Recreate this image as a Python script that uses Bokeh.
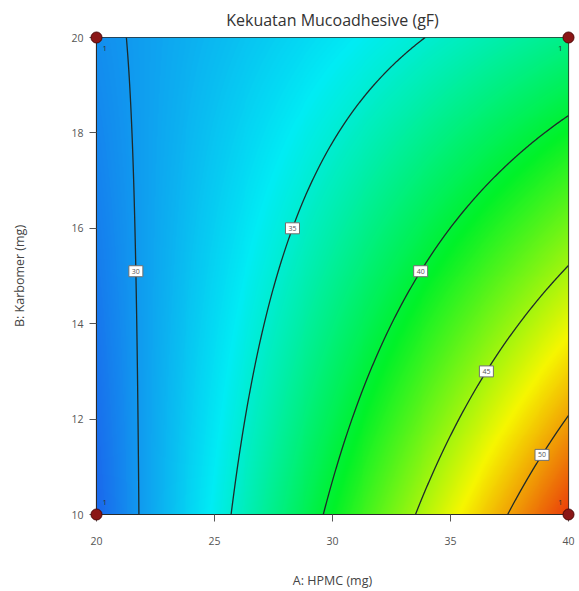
import numpy as np
from bokeh.plotting import figure
from bokeh.models import LinearColorMapper, Range1d, ColumnDataSource, FixedTicker
from bokeh.embed import file_html
from bokeh.resources import INLINE
from bokeh.core.properties import value

# 2^2 factorial design points and measured mucoadhesive strength (gF)
hpmc = [20, 40, 20, 40]
karbomer = [10, 10, 20, 20]
strength = [27.7, 53.3, 29.5, 37.4]
replicates = ["1", "1", "1", "1"]

contour_levels = [30, 35, 40, 45, 50]
x_ticks = [20, 25, 30, 35, 40]
y_ticks = [10, 12, 14, 16, 18, 20]

# where each contour label sits (Karbomer coordinate along its line)
label_b = [15.1, 16.0, 15.1, 13.0, 11.25]

FONT = "Open Sans"

# ---- fit the factorial model  y = c0 + c1*a + c2*b + c3*a*b  (coded units)
a_lo, a_hi = min(hpmc), max(hpmc)
b_lo, b_hi = min(karbomer), max(karbomer)
a_mid, a_half = (a_lo + a_hi) / 2, (a_hi - a_lo) / 2
b_mid, b_half = (b_lo + b_hi) / 2, (b_hi - b_lo) / 2

ca = (np.array(hpmc) - a_mid) / a_half
cb = (np.array(karbomer) - b_mid) / b_half
X = np.column_stack([np.ones(4), ca, cb, ca * cb])
c0, c1, c2, c3 = np.linalg.lstsq(X, np.array(strength), rcond=None)[0]


def predict(A, B):
    a = (A - a_mid) / a_half
    b = (B - b_mid) / b_half
    return c0 + c1 * a + c2 * b + c3 * a * b


ag = np.linspace(a_lo, a_hi, 480)
bg = np.linspace(b_lo, b_hi, 480)
AA, BB = np.meshgrid(ag, bg)
Z = predict(AA, BB)

# blue -> cyan -> green -> yellow -> red gradient
stops = [(0.00, (26, 104, 236)),
         (0.24, (0, 236, 244)),
         (0.50, (0, 242, 40)),
         (0.77, (246, 246, 0)),
         (1.00, (234, 62, 10))]
palette = []
for t in np.linspace(0, 1, 256):
    for (t0, col0), (t1, col1) in zip(stops[:-1], stops[1:]):
        if t0 <= t <= t1:
            f = (t - t0) / (t1 - t0)
            rgb = [int(round(u + (v - u) * f)) for u, v in zip(col0, col1)]
            palette.append("#%02x%02x%02x" % tuple(rgb))
            break

mapper = LinearColorMapper(palette=palette, low=float(Z.min()), high=float(Z.max()))

p = figure(width=579, height=591,
           x_range=Range1d(a_lo, a_hi), y_range=Range1d(b_lo, b_hi),
           output_backend="svg", toolbar_location=None,
           min_border_left=96, min_border_right=11,
           min_border_top=37, min_border_bottom=77)

p.title.text = "Kekuatan Mucoadhesive (gF)"
p.title.align = "center"
p.title.text_font = FONT
p.title.text_font_size = "16px"
p.title.text_font_style = "normal"
p.title.text_color = "#333333"
p.title.standoff = 13

p.background_fill_color = "white"
p.border_fill_color = "white"
p.outline_line_color = "#2a2a2a"
p.outline_line_width = 1.2
p.grid.visible = False

p.image(image=[Z], x=a_lo, y=b_lo, dw=a_hi - a_lo, dh=b_hi - b_lo,
        color_mapper=mapper)

p.contour(ag, bg, Z, levels=contour_levels, fill_color=None,
          line_color="#1e2a2a", line_width=1.3)

# contour labels
lb = np.array(label_b)
lv = np.array(contour_levels, dtype=float)
bc = (lb - b_mid) / b_half
acode = (lv - c0 - c2 * bc) / (c1 + c3 * bc)
la = acode * a_half + a_mid
lsrc = ColumnDataSource(dict(x=la, y=lb, t=[str(v) for v in contour_levels]))
p.rect("x", "y", width=14, height=11, width_units="screen", height_units="screen",
       source=lsrc, fill_color="white", line_color="#707070", line_width=1)
p.text("x", "y", text="t", source=lsrc, text_font=value(FONT),
       text_font_size="7px", text_align="center", text_baseline="middle",
       text_color="#555555")

# design points
dsrc = ColumnDataSource(dict(x=hpmc, y=karbomer, t=replicates,
                             dx=[6, -6, 6, -6], dy=[-12, -12, 11, 11],
                             al=["left", "right", "left", "right"]))
dots = p.scatter("x", "y", source=dsrc, size=11, fill_color="#8b1616",
                 line_color="#4d0909", line_width=1)
dots.level = "overlay"
p.text("x", "y", text="t", source=dsrc, x_offset="dx", y_offset="dy",
       text_align="al", text_baseline="middle", text_font=value(FONT),
       text_font_size="8px", text_color="#303030")

for ax, ticks, lab in ((p.xaxis[0], x_ticks, "A: HPMC (mg)"),
                       (p.yaxis[0], y_ticks, "B: Karbomer (mg)")):
    ax.ticker = FixedTicker(ticks=ticks)
    ax.axis_label = lab
    ax.axis_label_text_font = FONT
    ax.axis_label_text_font_size = "12.5px"
    ax.axis_label_text_font_style = "normal"
    ax.axis_label_text_color = "#444444"
    ax.major_label_text_font = FONT
    ax.major_label_text_font_size = "10.5px"
    ax.major_label_text_color = "#555555"
    ax.axis_line_color = "#2a2a2a"
    ax.major_tick_line_color = "#555555"
    ax.major_tick_out = 7
    ax.major_tick_in = 0
    ax.minor_tick_line_color = None

p.xaxis[0].major_label_standoff = 15
p.xaxis[0].axis_label_standoff = 24
p.yaxis[0].major_label_standoff = 6
p.yaxis[0].axis_label_standoff = 40

open("out.html", "w").write(file_html(p, INLINE))
